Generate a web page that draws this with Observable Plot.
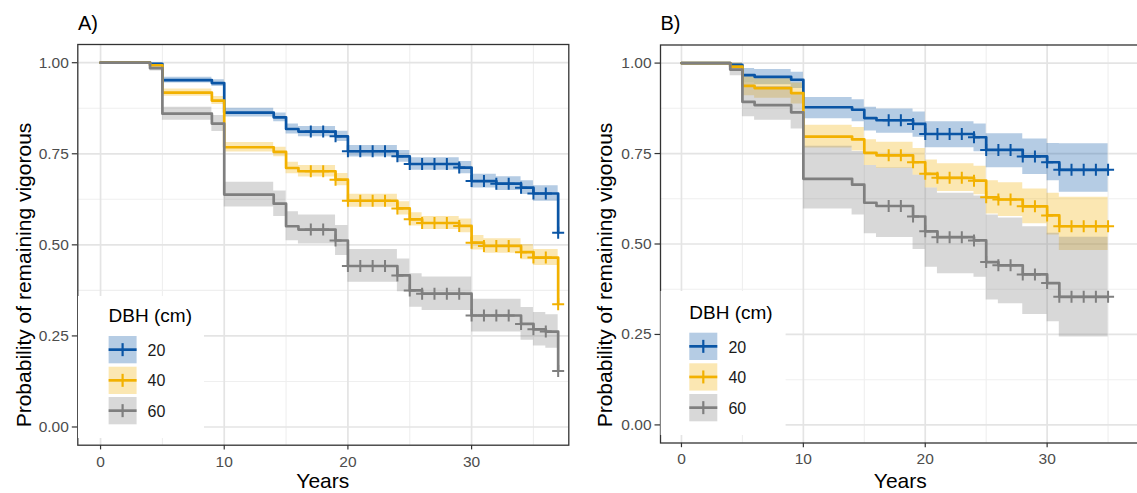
<!DOCTYPE html>
<html><head><meta charset="utf-8">
<script src="https://cdn.jsdelivr.net/npm/d3@7"></script>
<script src="https://cdn.jsdelivr.net/npm/@observablehq/plot@0.6"></script>
<style>
html,body{margin:0;padding:0;background:#fff;overflow:hidden}
#root{position:relative;width:1137px;height:493px;overflow:hidden;background:#fff;font-family:"Liberation Sans",Arial,sans-serif}
#root > svg{position:absolute;top:0}
</style></head><body><div id="root"></div>
<script>
// ---------- tick labels / categories ----------
const xMajor = [0, 10, 20, 30];
const xMinor = [5, 15, 25, 35];
const yMajor = [0, 0.25, 0.5, 0.75, 1];
const yMinor = [0.125, 0.375, 0.625, 0.875];
const dbhLevels = ["20", "40", "60"];
const lineColors = ["#0a55a5", "#f2b100", "#7f7f7f"];
const panelLabels = ["A)", "B)"];
const xTitle = "Years";
const yTitle = "Probability of remaining vigorous";
const legendTitle = "DBH (cm)";

// ---------- Panel A ----------
const aTime20 = [0, 4, 5, 9, 10, 14, 15, 16, 19, 20, 24, 25, 29, 30, 32, 34, 35, 37];
const aSurv20 = [1.000, 0.997, 0.952, 0.944, 0.863, 0.850, 0.818, 0.811, 0.798, 0.757, 0.743, 0.722, 0.712, 0.675, 0.668, 0.657, 0.641, 0.533];
const aLow20  = [1.000, 0.994, 0.944, 0.935, 0.851, 0.838, 0.804, 0.797, 0.784, 0.741, 0.727, 0.705, 0.695, 0.656, 0.649, 0.638, 0.620, 0.533];
const aHigh20 = [1.000, 1.000, 0.960, 0.953, 0.875, 0.862, 0.832, 0.825, 0.812, 0.773, 0.759, 0.739, 0.729, 0.694, 0.687, 0.676, 0.662, 0.533];

const aTime40 = [0, 4, 5, 9, 10, 14, 15, 16, 19, 20, 24, 25, 26, 29, 30, 31, 34, 35, 37];
const aSurv40 = [1.000, 0.993, 0.918, 0.896, 0.768, 0.755, 0.711, 0.702, 0.679, 0.621, 0.600, 0.570, 0.560, 0.552, 0.506, 0.497, 0.480, 0.465, 0.337];
const aLow40  = [1.000, 0.989, 0.908, 0.885, 0.755, 0.742, 0.695, 0.686, 0.662, 0.603, 0.582, 0.552, 0.542, 0.533, 0.486, 0.477, 0.459, 0.443, 0.337];
const aHigh40 = [1.000, 0.997, 0.928, 0.907, 0.781, 0.768, 0.727, 0.718, 0.696, 0.639, 0.618, 0.588, 0.578, 0.571, 0.526, 0.517, 0.501, 0.487, 0.337];

const aTime60 = [0, 4, 5, 9, 10, 14, 15, 16, 19, 20, 24, 25, 26, 30, 34, 35, 36, 37];
const aSurv60 = [1.000, 0.985, 0.860, 0.833, 0.638, 0.613, 0.551, 0.542, 0.512, 0.442, 0.416, 0.375, 0.366, 0.306, 0.283, 0.268, 0.262, 0.154];
const aLow60  = [1.000, 0.977, 0.842, 0.811, 0.604, 0.578, 0.511, 0.502, 0.471, 0.397, 0.371, 0.329, 0.320, 0.261, 0.238, 0.222, 0.216, 0.154];
const aHigh60 = [1.000, 0.993, 0.878, 0.855, 0.672, 0.648, 0.591, 0.582, 0.553, 0.487, 0.461, 0.421, 0.412, 0.351, 0.328, 0.314, 0.308, 0.154];

const aCensor = [17, 18, 19, 20, 21, 22, 23, 24, 25, 26, 27, 28, 29, 30, 31, 32, 33, 34, 35, 36, 37];

// ---------- Panel B ----------
const bTime20 = [0, 4, 5, 6, 9, 10, 14, 15, 16, 19, 20, 24, 25, 28, 30, 31, 35];
const bSurv20 = [1.000, 0.995, 0.967, 0.962, 0.954, 0.878, 0.871, 0.848, 0.842, 0.832, 0.804, 0.795, 0.760, 0.742, 0.726, 0.705, 0.705];
const bLow20  = [1.000, 0.987, 0.945, 0.940, 0.930, 0.846, 0.838, 0.812, 0.806, 0.795, 0.766, 0.755, 0.711, 0.692, 0.675, 0.643, 0.643];
const bHigh20 = [1.000, 1.000, 0.985, 0.982, 0.975, 0.905, 0.899, 0.878, 0.873, 0.865, 0.838, 0.832, 0.805, 0.790, 0.778, 0.777, 0.777];

const bTime40 = [0, 4, 5, 6, 9, 10, 14, 15, 16, 19, 20, 21, 24, 25, 26, 28, 30, 31, 35];
const bSurv40 = [1.000, 0.990, 0.937, 0.931, 0.917, 0.797, 0.789, 0.752, 0.745, 0.726, 0.694, 0.683, 0.675, 0.629, 0.623, 0.604, 0.579, 0.549, 0.549];
const bLow40  = [1.000, 0.980, 0.910, 0.903, 0.887, 0.765, 0.757, 0.717, 0.709, 0.690, 0.655, 0.645, 0.636, 0.583, 0.576, 0.556, 0.525, 0.482, 0.482];
const bHigh40 = [1.000, 1.000, 0.962, 0.957, 0.945, 0.828, 0.822, 0.788, 0.781, 0.764, 0.732, 0.722, 0.715, 0.675, 0.669, 0.652, 0.640, 0.629, 0.629];

const bTime60 = [0, 4, 5, 6, 9, 10, 14, 15, 16, 19, 20, 21, 24, 25, 26, 28, 30, 31, 35];
const bSurv60 = [1.000, 0.982, 0.893, 0.884, 0.864, 0.680, 0.664, 0.614, 0.605, 0.576, 0.535, 0.519, 0.510, 0.450, 0.441, 0.416, 0.392, 0.354, 0.354];
const bLow60  = [1.000, 0.965, 0.852, 0.842, 0.818, 0.597, 0.580, 0.528, 0.518, 0.485, 0.436, 0.418, 0.408, 0.345, 0.335, 0.305, 0.285, 0.243, 0.243];
const bHigh60 = [1.000, 0.998, 0.945, 0.935, 0.915, 0.770, 0.756, 0.717, 0.710, 0.690, 0.655, 0.640, 0.633, 0.580, 0.572, 0.548, 0.530, 0.519, 0.519];

const bCensor = [17, 18, 19, 20, 21, 22, 23, 24, 25, 26, 27, 28, 29, 30, 31, 32, 33, 34, 35];

// ---------- helpers ----------
function table(t, s, lo, hi) { return t.map((d, i) => ({t: d, s: s[i], lo: lo[i], hi: hi[i]})); }
function stepAt(t, s, tc) { let v = s[0]; for (let i = 0; i < t.length; i++) if (t[i] <= tc) v = s[i]; return v; }
function censorTable(t, s, times) { return times.map(tc => ({t: tc, s: stepAt(t, s, tc)})); }

const plusSymbol = {
  draw(context, size) {
    const r = Math.sqrt(size / Math.PI);
    context.moveTo(-r, 0); context.lineTo(r, 0);
    context.moveTo(0, -r); context.lineTo(0, r);
  }
};

const FONT = '"Liberation Sans", Arial, sans-serif';

function makePanel(cfg) {
  const marks = [
    Plot.ruleX(xMinor, {stroke: "#efefef", strokeWidth: 1.1}),
    Plot.ruleY(yMinor, {stroke: "#efefef", strokeWidth: 1.1}),
    Plot.ruleX(xMajor, {stroke: "#e4e4e4", strokeWidth: 1.7}),
    Plot.ruleY(yMajor, {stroke: "#e4e4e4", strokeWidth: 1.7})
  ];
  cfg.series.forEach((sr, i) => {
    marks.push(Plot.areaY(table(sr[0], sr[1], sr[2], sr[3]), {x: "t", y1: "lo", y2: "hi", fill: lineColors[i], fillOpacity: 0.3, curve: "step-after"}));
  });
  cfg.series.forEach((sr, i) => {
    marks.push(Plot.line(table(sr[0], sr[1], sr[2], sr[3]), {x: "t", y: "s", stroke: lineColors[i], strokeWidth: 2.7, curve: "step-after"}));
  });
  cfg.series.forEach((sr, i) => {
    marks.push(Plot.dot(censorTable(sr[0], sr[1], cfg.censor), {x: "t", y: "s", symbol: plusSymbol, r: 6, stroke: lineColors[i], strokeWidth: 2, fill: "none"}));
  });
  marks.push(Plot.frame({stroke: "#333333", strokeWidth: 1.3}));
  const svg = Plot.plot({
    width: cfg.width, height: 493,
    marginLeft: cfg.mL, marginRight: cfg.mR, marginTop: cfg.mT, marginBottom: cfg.mB,
    x: {domain: cfg.xDomain, ticks: xMajor, tickFormat: d => String(d), tickSize: 4.7, tickPadding: cfg.xPad, label: null},
    y: {domain: [-0.05, 1.05], ticks: yMajor, tickFormat: d => d.toFixed(2), tickSize: 5.5, tickPadding: 3.5, label: null},
    style: {fontFamily: FONT, fontSize: "15.5px", color: "#4d4d4d", background: "transparent", overflow: "visible"},
    marks
  });
  svg.style.left = cfg.left + "px";
  d3.select(svg).selectAll('g[aria-label="x-axis tick"] path, g[aria-label="y-axis tick"] path, g[aria-label="x-axis"] line, g[aria-label="y-axis"] line').attr("stroke", "#333333").attr("stroke-width", 1.2);
  return svg;
}

const root = document.getElementById("root");
root.appendChild(makePanel({
  left: 0, width: 575, mL: 77.3, mR: 6.7, mT: 44, mB: 48.3, xPad: 6.5,
  xDomain: [-1.84, 37.86],
  series: [[aTime20, aSurv20, aLow20, aHigh20], [aTime40, aSurv40, aLow40, aHigh40], [aTime60, aSurv60, aLow60, aHigh60]],
  censor: aCensor
}));
root.appendChild(makePanel({
  left: 575, width: 570, mL: 85, mR: 5, mT: 44.5, mB: 50.5, xPad: 5.5,
  xDomain: [-1.72, 37.66],
  series: [[bTime20, bSurv20, bLow20, bHigh20], [bTime40, bSurv40, bLow40, bHigh40], [bTime60, bSurv60, bLow60, bHigh60]],
  censor: bCensor
}));

// ---------- overlay: titles and legends ----------
const ov = d3.select(root).append("svg").attr("width", 1137).attr("height", 493)
  .style("left", "0px").style("font-family", FONT);

const panelsText = [
  {label: panelLabels[0], lx: 78, yTx: 31, yTy: 275, xTx: 322.8, xTy: 488,
   leg: {bx: 78, by: 296, bw: 126, bh: 142, tx: 108.6, ty: 321.6, kx: 108.6, ky: [336, 366.7, 397], lbx: 147.5, lby: [350, 380.7, 411.7]}},
  {label: panelLabels[1], lx: 660.4, yTx: 612, yTy: 275, xTx: 900.3, xTy: 488,
   leg: {bx: 660.6, by: 291, bw: 125, bh: 144, tx: 689.3, ty: 318.6, kx: 689.3, ky: [332.7, 363.3, 394], lbx: 728.4, lby: [347.3, 377.7, 408.3]}}
];

panelsText.forEach(p => {
  ov.append("text").attr("x", p.lx).attr("y", 30).attr("font-size", 20).attr("fill", "#000").text(p.label);
  ov.append("text").attr("transform", `translate(${p.yTx},${p.yTy}) rotate(-90)`).attr("text-anchor", "middle")
    .attr("font-size", 21).attr("fill", "#000").text(yTitle);
  ov.append("text").attr("x", p.xTx).attr("y", p.xTy).attr("text-anchor", "middle")
    .attr("font-size", 21).attr("fill", "#000").text(xTitle);
  const L = p.leg;
  ov.append("rect").attr("x", L.bx).attr("y", L.by).attr("width", L.bw).attr("height", L.bh).attr("fill", "#fff");
  ov.append("text").attr("x", L.tx).attr("y", L.ty).attr("font-size", 19).attr("fill", "#000").text(legendTitle);
  dbhLevels.forEach((lev, i) => {
    const ky = L.ky[i], kw = 28, kh = 27.3, cy = ky + kh / 2;
    ov.append("rect").attr("x", L.kx).attr("y", ky).attr("width", kw).attr("height", kh)
      .attr("fill", lineColors[i]).attr("fill-opacity", 0.3);
    ov.append("line").attr("x1", L.kx).attr("x2", L.kx + kw).attr("y1", cy).attr("y2", cy)
      .attr("stroke", lineColors[i]).attr("stroke-width", 2.7);
    ov.append("line").attr("x1", L.kx + kw / 2).attr("x2", L.kx + kw / 2).attr("y1", cy - 6.5).attr("y2", cy + 6.5)
      .attr("stroke", lineColors[i]).attr("stroke-width", 2.2);
    ov.append("text").attr("x", L.lbx).attr("y", L.lby[i]).attr("dy", "0.35em").attr("font-size", 16)
      .attr("fill", "#1a1a1a").text(lev);
  });
});
</script></body></html>
